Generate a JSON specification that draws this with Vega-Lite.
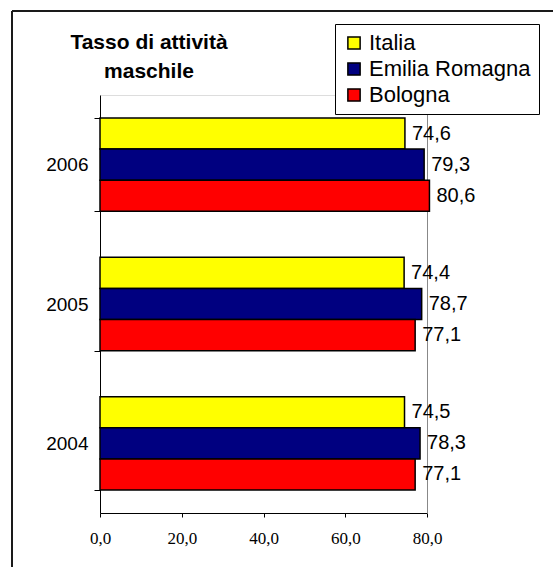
{
  "$schema": "https://vega.github.io/schema/vega-lite/v6.json",
  "width": 541,
  "height": 556,
  "autosize": {"type": "none"},
  "padding": {"left": 12, "top": 11, "right": 0, "bottom": 0},
  "background": "white",
  "config": {
    "view": {"stroke": "#1a1a1a", "strokeWidth": 2, "strokeDash": [541, 1097, 556, 0]},
    "font": "Liberation Sans"
  },
  "title": {
    "text": ["Tasso di attività", "maschile"],
    "anchor": "start",
    "frame": "group",
    "align": "center",
    "baseline": "top",
    "dx": 137,
    "dy": 19,
    "offset": -61,
    "fontSize": 21,
    "fontWeight": "bold",
    "font": "Liberation Sans",
    "lineHeight": 29,
    "color": "black"
  },
  "data": {
    "values": [
      {"year": "2006", "series": "Italia", "value": 74.6, "label": "74,6"},
      {"year": "2006", "series": "Emilia Romagna", "value": 79.3, "label": "79,3"},
      {"year": "2006", "series": "Bologna", "value": 80.6, "label": "80,6"},
      {"year": "2005", "series": "Italia", "value": 74.4, "label": "74,4"},
      {"year": "2005", "series": "Emilia Romagna", "value": 78.7, "label": "78,7"},
      {"year": "2005", "series": "Bologna", "value": 77.1, "label": "77,1"},
      {"year": "2004", "series": "Italia", "value": 74.5, "label": "74,5"},
      {"year": "2004", "series": "Emilia Romagna", "value": 78.3, "label": "78,3"},
      {"year": "2004", "series": "Bologna", "value": 77.1, "label": "77,1"}
    ]
  },
  "layer": [
    {
      "mark": {"type": "bar", "stroke": "black", "strokeWidth": 1.5},
      "encoding": {
        "y": {
          "field": "year", "type": "nominal", "sort": ["2006", "2005", "2004"],
          "scale": {"range": [84, 502], "paddingInner": 0.33, "paddingOuter": 0.165},
          "axis": {"orient": "left", "offset": -88, "title": null, "labelFontSize": 19, "labelColor": "black", "labelFont": "Liberation Sans", "tickBand": "extent", "tickSize": 6, "tickColor": "black", "domainColor": "black", "labelPadding": 6, "grid": false}
        },
        "yOffset": {
          "field": "series", "type": "nominal", "sort": ["Italia", "Emilia Romagna", "Bologna"],
          "scale": {"paddingInner": 0, "paddingOuter": 0}
        },
        "x": {
          "field": "value", "type": "quantitative",
          "scale": {"domain": [0, 80], "range": [88, 415], "nice": false, "zero": true},
          "axis": {"orient": "bottom", "offset": -54, "title": null, "values": [0, 20, 40, 60, 80], "labelExpr": "replace(format(datum.value, '.1f'), '.', ',')", "labelFont": "Liberation Serif", "labelFontSize": 17, "labelColor": "black", "labelFlush": false, "tickSize": 4, "tickColor": "black", "domainColor": "black", "labelPadding": 13, "grid": false}
        },
        "color": {
          "field": "series", "type": "nominal",
          "scale": {"domain": ["Italia", "Emilia Romagna", "Bologna"], "range": ["#ffff00", "#000080", "#ff0000"]},
          "legend": {"orient": "none", "legendX": 323, "legendY": 13, "title": null, "strokeColor": "black", "fillColor": "white", "padding": 8, "labelFontSize": 22, "labelFont": "Liberation Sans", "labelColor": "black", "labelLimit": 300, "symbolType": "square", "symbolSize": 150, "symbolStrokeColor": "black", "symbolStrokeWidth": 1.5, "rowPadding": 4, "labelOffset": 4}
        }
      }
    },
    {
      "mark": {"type": "text", "align": "left", "baseline": "middle", "dx": 7, "fontSize": 20, "font": "Liberation Sans", "color": "black"},
      "encoding": {
        "y": {
          "field": "year", "type": "nominal", "sort": ["2006", "2005", "2004"],
          "axis": {"orient": "right", "offset": -126, "labels": false, "ticks": false, "title": null, "domainColor": "#888888", "grid": false}
        },
        "yOffset": {"field": "series", "type": "nominal", "sort": ["Italia", "Emilia Romagna", "Bologna"]},
        "x": {
          "field": "value", "type": "quantitative",
          "axis": {"orient": "top", "offset": -84, "labels": false, "ticks": false, "title": null, "domainColor": "#dddddd", "grid": false}
        },
        "text": {"field": "label"}
      }
    }
  ],
  "resolve": {"axis": {"x": "independent", "y": "independent"}}
}
